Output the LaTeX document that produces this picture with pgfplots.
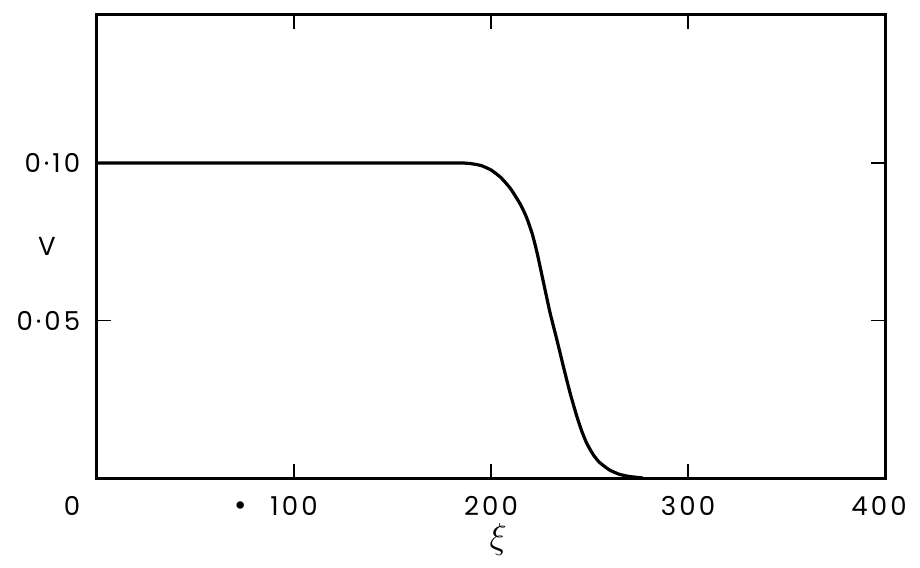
\documentclass[border=0pt]{standalone}
\usepackage{fontspec}
\setmainfont{Poppins}[LetterSpace=12]
\usepackage{pgfplots}
\pgfplotsset{compat=1.18}

\pgfplotstableread{
xi     V
0      0.1000
170    0.1000
180    0.1000
186    0.1000
190    0.0998
195    0.0992
200    0.0978
205    0.0954
210    0.0918
215    0.0868
218    0.0828
221    0.0774
223.5  0.0712
226.6  0.0622
230    0.0524
233.4  0.0440
236.7  0.0355
240.1  0.0271
243.5  0.0197
246    0.0150
248.6  0.0110
252    0.0073
255    0.0050
260    0.0026
265    0.0012
270    0.0005
277    0.0000
}\profile

\begin{document}
\fontsize{26}{30}\selectfont
\begin{tikzpicture}
\begin{axis}[
    scale only axis,
    width=788pt,
    height=463pt,
    xmin=0, xmax=400,
    ymin=0, ymax=0.147,
    xtick={0,100,200,300,400},
    xticklabels={\makebox[0pt]{0\hspace*{50pt}},{\makebox[0pt][r]{{\fontsize{30}{30}\selectfont\textbullet}\hspace{24pt}}100},200,300,\makebox[0pt]{400\hspace*{12pt}}},
    ytick={0.05,0.10},
    yticklabels={0\kern3pt·\kern3pt05,0\kern3pt·\kern3pt10},
    tick align=inside,
    major tick length=14pt,
    major tick style={line width=1.5pt, black},
    axis line style={line width=3pt},
    ticklabel style={font=\fontsize{26}{30}\selectfont},
    xticklabel style={yshift=-18pt, inner sep=0pt},
    yticklabel style={xshift=-8pt},
    xlabel={\scalebox{1.45}{$\xi$}},
    ylabel={V},
    xlabel style={at={(axis description cs:0.509,-0.132)}, anchor=center, inner sep=0pt},
    ylabel style={at={(axis description cs:-0.0635,0.5)}, rotate=-90, anchor=center, font=\fontsize{26}{30}\selectfont},
]
\addplot[black, line width=3.2pt, smooth, tension=0.3] table[x=xi, y=V] {\profile};
\end{axis}
\path ([xshift=-97pt,yshift=-89pt]current axis.south west) rectangle ([xshift=35pt,yshift=15pt]current axis.north east);
\end{tikzpicture}
\end{document}
